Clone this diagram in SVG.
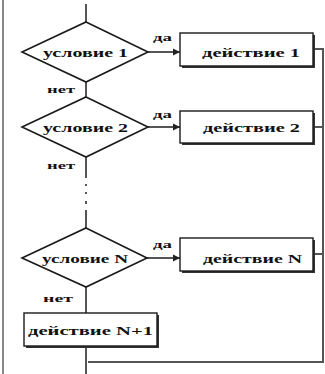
<svg xmlns="http://www.w3.org/2000/svg" width="325" height="374" viewBox="0 0 325 374">
<defs>
<marker id="arr" markerWidth="8" markerHeight="8" refX="7" refY="4" orient="auto" markerUnits="userSpaceOnUse">
<path d="M0,0.5 L7,4 L0,7.5 Z" fill="#222"/>
</marker>
</defs>
<style>
.ln{stroke:#555;stroke-width:2;fill:none}
.dm{stroke:#1a1a1a;stroke-width:1.6;fill:#fff}
.bx{stroke:#1a1a1a;stroke-width:1.4;fill:#fff}
.sh{fill:#333}
.t{font-family:"Liberation Serif","DejaVu Serif",serif;font-size:13px;font-weight:bold;fill:#111}
.s{font-family:"Liberation Serif","DejaVu Serif",serif;font-size:10px;font-weight:bold;fill:#111}
</style>
<rect width="325" height="374" fill="#fff"/>
<line x1="3" y1="0" x2="3" y2="374" stroke="#888" stroke-width="2"/>
<g id="connectors">
<line class="ln" x1="86" y1="4" x2="86" y2="22"/>
<line class="ln" x1="148" y1="52" x2="180" y2="52" marker-end="url(#arr)"/>
<line class="ln" x1="86" y1="82" x2="86" y2="97"/>
<line class="ln" x1="148" y1="127" x2="180" y2="127" marker-end="url(#arr)"/>
<line class="ln" x1="86" y1="157" x2="86" y2="178"/>
<line class="ln" x1="86" y1="184" x2="86" y2="186"/>
<line class="ln" x1="86" y1="192" x2="86" y2="194"/>
<line class="ln" x1="86" y1="201" x2="86" y2="204"/>
<line class="ln" x1="86" y1="210" x2="86" y2="228"/>
<line class="ln" x1="147" y1="258" x2="180" y2="258" marker-end="url(#arr)"/>
<line class="ln" x1="86" y1="287" x2="86" y2="313"/>
<line class="ln" x1="86" y1="347" x2="86" y2="374"/>
<line class="ln" x1="313" y1="49" x2="323" y2="49"/>
<line class="ln" x1="313" y1="127" x2="323" y2="127"/>
<line class="ln" x1="313" y1="254" x2="323" y2="254"/>
<line class="ln" x1="323" y1="48" x2="323" y2="363"/>
<line class="ln" x1="88" y1="362" x2="324" y2="362"/>
</g>
<g id="cond1">
<polygon class="dm" points="86,22 148,52 86,82 22,52"/>
<text class="t" x="43" y="57" textLength="85" lengthAdjust="spacingAndGlyphs">условие 1</text>
</g>
<g id="act1">
<rect class="sh" x="182" y="35" width="133" height="33"/>
<rect class="bx" x="180" y="33" width="133" height="33"/>
<text class="t" x="202" y="57" textLength="98" lengthAdjust="spacingAndGlyphs">действие 1</text>
</g>
<g id="cond2">
<polygon class="dm" points="86,97 148,127 86,157 22,127"/>
<text class="t" x="43" y="132" textLength="85" lengthAdjust="spacingAndGlyphs">условие 2</text>
</g>
<g id="act2">
<rect class="sh" x="182" y="113" width="133" height="32"/>
<rect class="bx" x="180" y="111" width="133" height="32"/>
<text class="t" x="203" y="132" textLength="97" lengthAdjust="spacingAndGlyphs">действие 2</text>
</g>
<g id="condN">
<polygon class="dm" points="86,228 147,258 86,287 22,258"/>
<text class="t" x="42" y="263" textLength="86" lengthAdjust="spacingAndGlyphs">условие N</text>
</g>
<g id="actN">
<rect class="sh" x="182" y="240" width="133" height="33"/>
<rect class="bx" x="180" y="238" width="133" height="33"/>
<text class="t" x="203" y="263" textLength="99" lengthAdjust="spacingAndGlyphs">действие N</text>
</g>
<g id="actN1">
<rect class="sh" x="26" y="315" width="133" height="33"/>
<rect class="bx" x="24" y="313" width="133" height="33"/>
<text class="t" x="28" y="335" textLength="125" lengthAdjust="spacingAndGlyphs">действие N+1</text>
</g>
<g id="labels">
<text class="s" x="153" y="41" textLength="19" lengthAdjust="spacingAndGlyphs">да</text>
<text class="s" x="47" y="93" textLength="28" lengthAdjust="spacingAndGlyphs">нет</text>
<text class="s" x="153" y="118" textLength="19" lengthAdjust="spacingAndGlyphs">да</text>
<text class="s" x="47" y="169" textLength="28" lengthAdjust="spacingAndGlyphs">нет</text>
<text class="s" x="153" y="248" textLength="19" lengthAdjust="spacingAndGlyphs">да</text>
<text class="s" x="43" y="302" textLength="30" lengthAdjust="spacingAndGlyphs">нет</text>
</g>
</svg>
